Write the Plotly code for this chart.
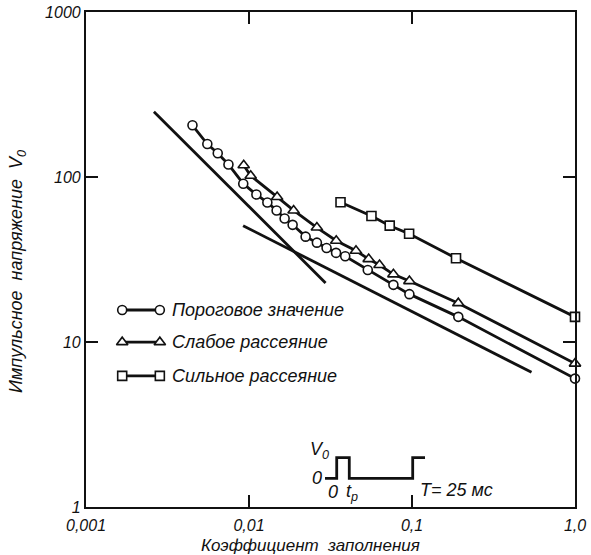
import plotly.graph_objects as go

# Пороговое значение (circles)
thr_x = [0.0045, 0.00555, 0.00643, 0.00748, 0.00922, 0.0111, 0.01296, 0.01477, 0.01654,
         0.01852, 0.02225, 0.02609, 0.02991, 0.0342, 0.03893, 0.05354, 0.0769, 0.0964,
         0.1923, 1.0]
thr_y = [205.7, 158.5, 139.2, 119.1, 91.1, 78.3, 70.1, 62.7, 56.0, 51.3, 43.5, 40.0,
         37.1, 34.7, 33.1, 27.3, 22.2, 19.5, 14.2, 6.0]

# Слабое рассеяние (triangles)
weak_x = [0.00928, 0.01024, 0.01488, 0.01878, 0.02609, 0.0343, 0.04533, 0.05423, 0.0632,
          0.0769, 0.0964, 0.1923, 1.0]
weak_y = [117.7, 101.8, 75.7, 62.7, 49.4, 41.1, 35.7, 31.8, 29.3, 25.7, 23.4, 17.2, 7.4]

# Сильное рассеяние (squares)
strong_x = [0.03643, 0.0564, 0.073, 0.096, 0.1862, 1.0]
strong_y = [70.3, 58.0, 50.7, 45.3, 32.2, 14.2]

# Asymptotic straight lines
steep_x = [0.00261, 0.02949]
steep_y = [248.8, 22.8]
shallow_x = [0.0092, 0.541]
shallow_y = [50.7, 6.55]

series_names = ["Пороговое значение", "Слабое рассеяние", "Сильное рассеяние"]
x_tick_vals = [0.001, 0.01, 0.1, 1.0]
x_tick_text = ["0,001", "0,01", "0,1", "1,0"]
y_tick_vals = [1, 10, 100, 1000]
y_tick_text = ["1", "10", "100", "1000"]

FONT = "Liberation Sans Narrow, Liberation Sans, Arial, sans-serif"
INK = "#111111"
LW = 2.8

fig = go.Figure()


def marker(sym, size):
    return dict(symbol=sym, size=size, color="white", line=dict(color=INK, width=1.6))


for xs, ys in [(steep_x, steep_y), (shallow_x, shallow_y)]:
    fig.add_trace(go.Scatter(x=xs, y=ys, mode="lines", line=dict(color=INK, width=LW),
                             showlegend=False, hoverinfo="skip"))

for xs, ys, sym, size in [(thr_x, thr_y, "circle", 9),
                          (weak_x, weak_y, "triangle-up", 10),
                          (strong_x, strong_y, "square", 9)]:
    fig.add_trace(go.Scatter(x=xs, y=ys, mode="lines+markers",
                             line=dict(color=INK, width=LW),
                             marker=marker(sym, size), showlegend=False,
                             cliponaxis=False))

# Hand-drawn legend and pulse sketch on an overlay axis in plot-fraction units
legend_rows = [(0.398, "circle", 9), (0.333, "triangle-up", 10), (0.265, "square", 9)]
for (fy, sym, size), name in zip(legend_rows, series_names):
    fig.add_trace(go.Scatter(x=[0.074, 0.151], y=[fy, fy], xaxis="x2", yaxis="y2",
                             mode="lines+markers", line=dict(color=INK, width=LW),
                             marker=marker(sym, size), showlegend=False, hoverinfo="skip"))
    fig.add_annotation(x=0.172, y=fy, xref="x2", yref="y2", text=name, showarrow=False,
                       xanchor="left", yanchor="middle",
                       font=dict(family=FONT, size=18, color=INK, style="italic"))

pulse_x = [0.4888, 0.5127, 0.5127, 0.5384, 0.5384, 0.6681, 0.6681, 0.6933]
pulse_y = [0.058, 0.058, 0.0996, 0.0996, 0.058, 0.058, 0.0996, 0.0996]
fig.add_trace(go.Scatter(x=pulse_x, y=pulse_y, xaxis="x2", yaxis="y2", mode="lines",
                         line=dict(color=INK, width=LW), showlegend=False, hoverinfo="skip"))

pulse_labels = [
    (0.478, 0.115, "V<sub>0</sub>", "center"),
    (0.472, 0.058, "0", "center"),
    (0.506, 0.030, "0", "center"),
    (0.543, 0.030, "t<sub>p</sub>", "center"),
    (0.678, 0.034, "T= 25 мс", "left"),
]
for fx, fy, txt, anc in pulse_labels:
    fig.add_annotation(x=fx, y=fy, xref="x2", yref="y2", text=txt, showarrow=False,
                       xanchor=anc, yanchor="middle",
                       font=dict(family=FONT, size=18, color=INK, style="italic"))

# Axis titles
fig.add_annotation(x=0.46, y=-0.077, xref="paper", yref="paper",
                   text="Коэффициент  заполнения", showarrow=False,
                   xanchor="center", yanchor="middle",
                   font=dict(family=FONT, size=17, color=INK, style="italic"))
fig.add_annotation(x=-0.139, y=0.475, xref="paper", yref="paper",
                   text="Импульсное  напряжение  V<sub>0</sub>", textangle=-90,
                   showarrow=False, xanchor="center", yanchor="middle",
                   font=dict(family=FONT, size=18, color=INK, style="italic"))

axis_common = dict(type="log", showgrid=False, zeroline=False, showline=True,
                   linecolor=INK, linewidth=2.2, mirror="ticks", ticks="inside",
                   ticklen=12, tickwidth=1.6, tickcolor=INK, automargin=False,
                   ticklabeloverflow="allow",
                   tickfont=dict(family=FONT, size=16, color=INK, style="italic"))

fig.update_layout(
    width=591, height=555,
    margin=dict(l=86, r=16, t=12, b=48),
    plot_bgcolor="white", paper_bgcolor="white",
    xaxis=dict(range=[-3, 0], tickvals=x_tick_vals, ticktext=x_tick_text,
               ticklabelstandoff=3, **axis_common),
    yaxis=dict(range=[0, 3], tickvals=y_tick_vals, ticktext=y_tick_text, **axis_common),
    xaxis2=dict(range=[0, 1], overlaying="x", visible=False, fixedrange=True),
    yaxis2=dict(range=[0, 1], overlaying="y", visible=False, fixedrange=True),
    showlegend=False,
)

fig.write_html("out.html")
